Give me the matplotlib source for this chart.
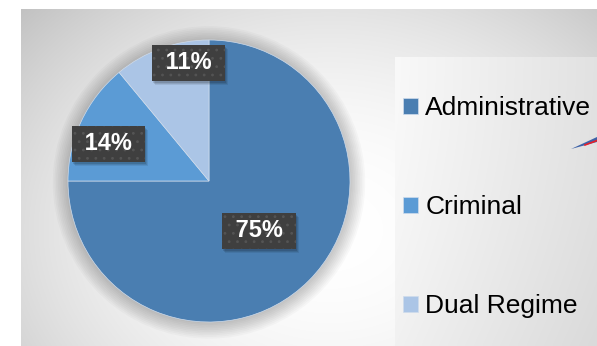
import numpy as np
import matplotlib.pyplot as plt
from matplotlib.patches import Circle, Polygon, Rectangle
from matplotlib.transforms import IdentityTransform

plt.rcParams['font.family'] = ['Liberation Sans', 'DejaVu Sans']
plt.rcParams['hatch.linewidth'] = 0.8

# data
categories = ['Administrative', 'Criminal', 'Dual Regime']
shares = [75, 14, 11]
colors = ['#4a7eb1', '#5b9bd5', '#abc5e6']
# label placement: radius (fraction of pie) and angle nudge (deg)
label_r = [0.50, 0.76, 0.85]
label_nudge = [0, 5, -10]

W, H = 597, 346
fig = plt.figure(figsize=(W / 100, H / 100), dpi=100)

# background in pixel coordinates
bg = fig.add_axes([0, 0, 1, 1])
bg.set_xlim(0, W)
bg.set_ylim(H, 0)
bg.axis('off')

# radial grey gradient panel
x0, x1, y0, y1 = 21, W, 9, H
gx, gy = np.meshgrid(np.linspace(x0, x1, 300), np.linspace(y0, y1, 200))
d = np.sqrt(((gx - 330) / 330) ** 2 + ((gy - 230) / 260) ** 2)
shade = 1.0 - 0.15 * np.clip(d, 0, 1.4) ** 2
bg.imshow(np.dstack([shade] * 3), extent=(x0, x1, y1, y0), aspect='auto',
          interpolation='bilinear', zorder=0)

# legend panel with a soft linear gradient
lx0, ly0 = 395, 57
lg = np.linspace(0.975, 0.885, 200)[None, :] * np.ones((100, 1))
lg = lg - 0.03 * np.linspace(0, 1, 100)[:, None] ** 2
bg.imshow(np.dstack([lg] * 3), extent=(lx0, W, H, ly0), aspect='auto',
          interpolation='bilinear', zorder=1)

# little arrow fragment at the right edge
bg.add_patch(Polygon([(571, 149), (597, 137), (597, 142)], closed=True,
                     fc='#3d62a8', ec='none', zorder=2))
bg.plot([585, 597], [145, 140.5], color='#e8202a', lw=1.2, zorder=3)

# pie axes: centre (209,181), radius 141 px
cx, cy, R = 209, 181, 141
ax = fig.add_axes([(cx - R) / W, (H - cy - R) / H, 2 * R / W, 2 * R / H])

# soft shadow under the pie
for i in range(10):
    ax.add_patch(Circle((0.0, -0.01), 1.0 + 0.012 * i, fc='black', ec='none',
                        alpha=0.022, zorder=0, clip_on=False))

wedges, _ = ax.pie(shares, colors=colors, startangle=90, counterclock=False,
                   radius=1, wedgeprops=dict(linewidth=0.5, edgecolor='#cfdcec'))
for w in wedges:
    w.set_zorder(2)
ax.set_xlim(-1, 1)
ax.set_ylim(-1, 1)
ax.set_aspect('equal')
ax.axis('off')

labels = []
for w, s, r, nud in zip(wedges, shares, label_r, label_nudge):
    mid = np.deg2rad((w.theta1 + w.theta2) / 2 + nud)
    t = ax.text(r * np.cos(mid), r * np.sin(mid), f' {s}% ', ha='center',
                va='center', fontsize=17, fontweight='bold', color='white',
                zorder=5,
                bbox=dict(boxstyle='square,pad=0.28', fc='#3f3f3f',
                          ec='#545454', lw=0, hatch='..'))
    labels.append(t)

leg = fig.legend(wedges, categories, loc='upper left',
                 bbox_to_anchor=(403 / W, 1 - 96 / H), frameon=False,
                 fontsize=19, handlelength=0.55, handleheight=0.55,
                 handletextpad=0.3, labelspacing=2.85, borderpad=0,
                 borderaxespad=0)

# soft drop shadows behind the label boxes
fig.canvas.draw()
for t in labels:
    bb = t.get_bbox_patch().get_window_extent()
    for k, a in [(1, 0.12), (2, 0.10), (3, 0.08)]:
        ax.add_artist(Rectangle((bb.x0 + k, bb.y0 - k - 1), bb.width, bb.height,
                                transform=IdentityTransform(), fc='black',
                                ec='none', alpha=a, zorder=4, clip_on=False))

fig.savefig('out.png', dpi=100)
